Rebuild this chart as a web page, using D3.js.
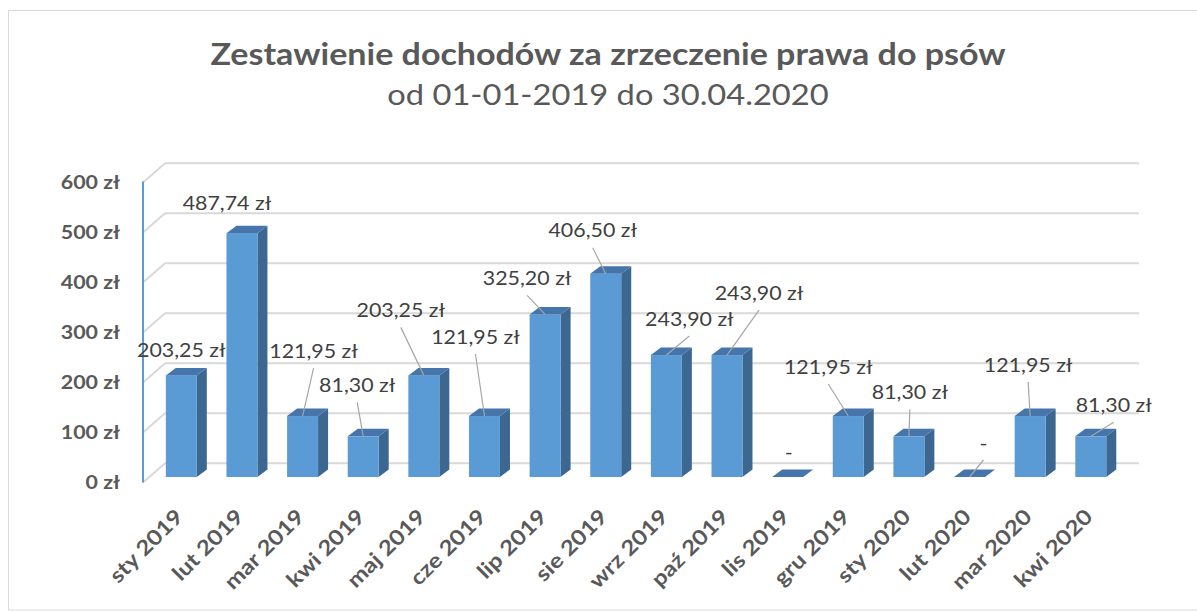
<!DOCTYPE html>
<html>
<head>
<meta charset="utf-8">
<script src="https://cdn.jsdelivr.net/npm/d3@7/dist/d3.min.js"></script>
<style>
  html, body { margin: 0; padding: 0; background: #fff; }
  svg { display: block; font-family: Lato, "Open Sans", sans-serif; }
</style>
</head>
<body>
<svg id="chart" width="1197" height="612"></svg>
<script>
// ---------- data ----------
const categories = ["sty 2019","lut 2019","mar 2019","kwi 2019","maj 2019","cze 2019","lip 2019","sie 2019",
  "wrz 2019","paź 2019","lis 2019","gru 2019","sty 2020","lut 2020","mar 2020","kwi 2020"];
const values = [203.25, 487.74, 121.95, 81.30, 203.25, 121.95, 325.20, 406.50,
  243.90, 243.90, 0, 121.95, 81.30, 0, 121.95, 81.30];
const yTicks = [0, 100, 200, 300, 400, 500, 600];
const titleText = "Zestawienie dochodów za zrzeczenie prawa do psów";
const subtitleText = "od 01-01-2019 do 30.04.2020";

// ---------- layout (label placement relative to bar top, px) ----------
const labelOffsets = [[0,-25],[-15,-30],[11,-65],[-6,-51],[-23,-65],[-9,-79],[-18,-36],[-13,-43],
  [23,-36],[32,-62],[1,-25],[-20,-49],[1,-44],[14,-34],[-2,-51],[23,-31]];

const SX = 1.15; // horizontal text stretch of the original picture
const svg = d3.select("#chart");

const pl = d3.formatLocale({decimal: ",", thousands: " ", grouping: [3], currency: ["", " zł"]});
const fmt = v => v === 0 ? "-" : pl.format(",.2f")(v) + " zł";

// frame
svg.append("rect").attr("x", 8.5).attr("y", 10.5).attr("width", 1300).attr("height", 599.5)
  .attr("fill", "none").attr("stroke", "#d9d9d9").attr("stroke-width", 1);

// titles
svg.append("text").attr("transform", `translate(608,65) scale(${SX},1)`)
  .attr("text-anchor", "middle").attr("font-size", 29.6).attr("font-weight", 700)
  .attr("fill", "#595959").text(titleText);
svg.append("text").attr("transform", `translate(608,105) scale(${SX},1)`)
  .attr("text-anchor", "middle").attr("font-size", 28.4)
  .attr("fill", "#595959").text(subtitleText);

// scales
const yFront = d3.scaleLinear().domain([0, 600]).range([482.5, 182.5]);
const yBack = d3.scaleLinear().domain([0, 600]).range([463.3, 163.3]);
const yBar = d3.scaleLinear().domain([0, 600]).range([477, 177]);
const x = d3.scaleBand().domain(categories).range([151, 1121.1]).paddingInner(0.489).paddingOuter(0.2445);
const frontX = 143, backX = 165, backRight = 1139;
const depthX = 10, depthY = -7.5;

// gridlines (back wall + left wall diagonals)
const grid = svg.append("g").attr("stroke", "#d9d9d9").attr("stroke-width", 2).attr("fill", "none");
yTicks.forEach(t => {
  grid.append("line").attr("x1", backX).attr("x2", backRight).attr("y1", yBack(t)).attr("y2", yBack(t));
  grid.append("line").attr("x1", frontX).attr("y1", yFront(t)).attr("x2", backX).attr("y2", yBack(t));
});

// y axis
const yAxis = svg.append("g").attr("transform", `translate(${frontX},0)`)
  .call(d3.axisLeft(yFront).tickValues(yTicks).tickSize(0).tickPadding(0).tickFormat(d => d + " zł"));
yAxis.select(".domain").remove();
yAxis.selectAll("text").attr("x", -23 / SX).attr("transform", `scale(${SX},1)`)
  .attr("font-family", "Lato, sans-serif").attr("font-size", 18.6).attr("font-weight", 700)
  .attr("fill", "#595959");
svg.append("line").attr("x1", frontX).attr("x2", frontX).attr("y1", yFront(600) - 1).attr("y2", yFront(0))
  .attr("stroke", "#5b9bd5").attr("stroke-width", 2);

// bars
const bars = svg.append("g");
categories.forEach((c, i) => {
  const x0 = x(c), w = x.bandwidth(), yT = yBar(values[i]), yB = yBar(0);
  const g = bars.append("g");
  if (values[i] > 0) {
    g.append("polygon").attr("points", [[x0 + w, yB], [x0 + w + depthX, yB + depthY], [x0 + w + depthX, yT + depthY], [x0 + w, yT]].join(" "))
      .attr("fill", "#3b6790");
    g.append("rect").attr("x", x0).attr("y", yT).attr("width", w).attr("height", yB - yT)
      .attr("fill", "#5b9bd5");
  }
  g.append("polygon").attr("points", [[x0, yT], [x0 + w, yT], [x0 + w + depthX, yT + depthY], [x0 + depthX, yT + depthY]].join(" "))
    .attr("fill", "#4575aa");
});

// data labels + leader lines
const labels = svg.append("g");
categories.forEach((c, i) => {
  const cx = x(c) + x.bandwidth() / 2, yT = yBar(values[i]);
  const lx = cx + labelOffsets[i][0], ly = yT + labelOffsets[i][1];
  const sx = lx, sy = ly + 17;
  if (Math.hypot(cx - sx, yT - sy) > 20) {
    labels.append("line").attr("x1", sx).attr("y1", sy).attr("x2", cx).attr("y2", yT)
      .attr("stroke", "#a6a6a6").attr("stroke-width", 1.2);
  }
  labels.append("text").attr("transform", `translate(${lx},${ly}) scale(${SX},1)`)
    .attr("text-anchor", "middle").attr("dy", "0.36em").attr("font-size", 18.6)
    .attr("fill", "#404040").text(fmt(values[i]));
});

// category labels
const cats = svg.append("g");
categories.forEach(c => {
  const cx = x(c) + x.bandwidth() / 2;
  cats.append("text").attr("transform", `translate(${cx + 3},518) rotate(-45) scale(${SX},1)`)
    .attr("text-anchor", "end").attr("font-size", 21).attr("font-weight", 700)
    .attr("fill", "#595959").text(c);
});
</script>
</body>
</html>
